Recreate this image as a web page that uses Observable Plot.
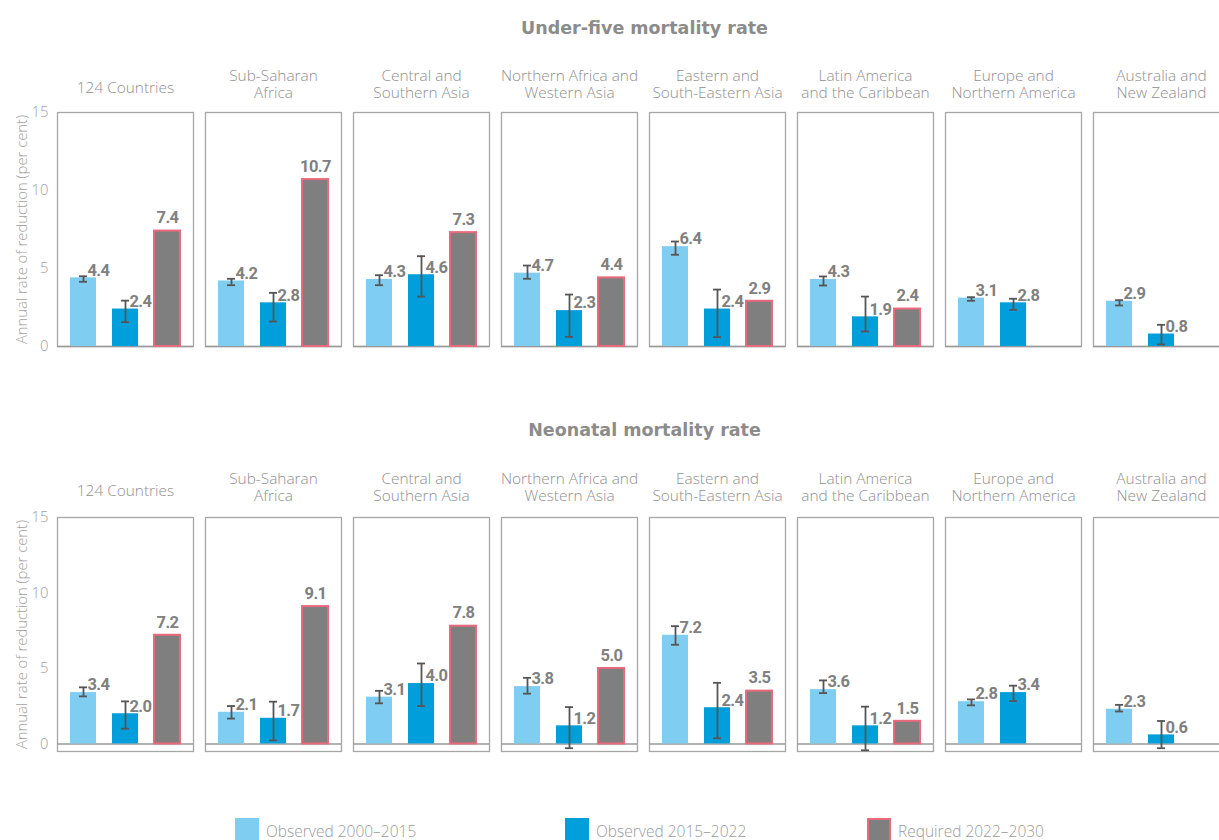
<!DOCTYPE html>
<html>
<head>
<meta charset="utf-8">
<script src="https://cdn.jsdelivr.net/npm/d3@7"></script>
<script src="https://cdn.jsdelivr.net/npm/@observablehq/plot@0.6"></script>
<style>
  html, body { margin: 0; padding: 0; background: #fff; overflow: hidden; }
  #wrap { position: relative; width: 1219px; height: 840px; overflow: hidden; font-family: "Open Sans", Roboto, sans-serif; }
  #wrap svg { max-width: none !important; }
  #wrap svg g[font-weight="bold"] { letter-spacing: -0.6px; }
  .title { position: absolute; left: 0; width: 1289px; text-align: center; font-family: "DejaVu Sans", sans-serif; font-weight: bold; font-size: 17.5px; color: #8c8c8c; line-height: 24px; }
  .row { position: absolute; left: 0; width: 1240px; }
  .legend { position: absolute; top: 818px; display: flex; align-items: flex-start; font-size: 15.5px; font-weight: 300; color: #9a9a9a; }
  .sw { width: 24px; height: 24px; margin-right: 7px; box-sizing: border-box; }
  .legend span { line-height: 18px; margin-top: 4px; }
</style>
</head>
<body>
<div id="wrap">
  <div class="title" style="top:16px">Under-five mortality rate</div>
  <div class="row" id="row1" style="top:50px"></div>
  <div class="title" style="top:418px">Neonatal mortality rate</div>
  <div class="row" id="row2" style="top:452px"></div>
  <div class="legend" style="left:235px"><div class="sw" style="background:#7fcdf1"></div><span>Observed 2000–2015</span></div>
  <div class="legend" style="left:565px"><div class="sw" style="background:#009edb"></div><span>Observed 2015–2022</span></div>
  <div class="legend" style="left:867px"><div class="sw" style="background:#7f7f7f;border:2px solid #e9697d"></div><span>Required 2022–2030</span></div>
</div>
<script>
// ---- Data ----
const regions = ["124 Countries", "Sub-Saharan Africa", "Central and Southern Asia", "Northern Africa and Western Asia",
  "Eastern and South-Eastern Asia", "Latin America and the Caribbean", "Europe and Northern America", "Australia and New Zealand"];
const regionLabels = ["124 Countries", "Sub-Saharan\nAfrica", "Central and\nSouthern Asia", "Northern Africa and\nWestern Asia",
  "Eastern and\nSouth-Eastern Asia", "Latin America\nand the Caribbean", "Europe and\nNorthern America", "Australia and\nNew Zealand"];
const seriesNames = ["Observed 2000–2015", "Observed 2015–2022", "Required 2022–2030"];

// Under-five mortality rate
const u5Obs1   = [4.4, 4.2, 4.3, 4.7, 6.4, 4.3, 3.1, 2.9];
const u5Obs1Lo = [4.15, 3.93, 3.93, 4.34, 5.88, 3.91, 2.93, 2.63];
const u5Obs1Hi = [4.5, 4.34, 4.57, 5.19, 6.73, 4.49, 3.16, 2.97];
const u5Obs2   = [2.4, 2.8, 4.6, 2.3, 2.4, 1.9, 2.8, 0.8];
const u5Obs2Lo = [1.56, 1.6, 3.2, 0.62, 0.6, 0.96, 2.35, 0.13];
const u5Obs2Hi = [2.94, 3.44, 5.79, 3.33, 3.65, 3.2, 3.06, 1.39];
const u5Req    = [7.4, 10.7, 7.3, 4.4, 2.9, 2.4, null, null];

// Neonatal mortality rate
const nmObs1   = [3.4, 2.1, 3.1, 3.8, 7.2, 3.6, 2.8, 2.3];
const nmObs1Lo = [3.15, 1.68, 2.69, 3.33, 6.57, 3.37, 2.56, 2.15];
const nmObs1Hi = [3.75, 2.51, 3.52, 4.38, 7.8, 4.21, 2.95, 2.59];
const nmObs2   = [2.0, 1.7, 4.0, 1.2, 2.4, 1.2, 3.4, 0.6];
const nmObs2Lo = [1.01, 0.24, 2.51, -0.28, 0.38, -0.42, 2.84, -0.28];
const nmObs2Hi = [2.82, 2.8, 5.33, 2.44, 4.05, 2.47, 3.86, 1.52];
const nmReq    = [7.2, 9.1, 7.8, 5.0, 3.5, 1.5, null, null];

const yTicks = [0, 5, 10, 15];
const colors = ["#7fcdf1", "#009edb", "#7f7f7f"];

function buildRows(o1, o1lo, o1hi, o2, o2lo, o2hi, req) {
  const obs = [], rq = [];
  regions.forEach((r, i) => {
    obs.push({region: r, series: seriesNames[0], value: o1[i], lo: o1lo[i], hi: o1hi[i]});
    obs.push({region: r, series: seriesNames[1], value: o2[i], lo: o2lo[i], hi: o2hi[i]});
    if (req[i] != null) rq.push({region: r, series: seriesNames[2], value: req[i]});
  });
  return {obs, rq};
}

function makeRow({obs, rq}, yDomain, marginTop, height, dyTwo, dyOne) {
  const labelFont = {fontFamily: "Roboto, sans-serif", fontWeight: "bold", fontSize: 16.5, fill: "#808080"};
  const facetData = regions.map((r, i) => ({region: r, label: regionLabels[i]}));
  const lightFont = {fontSize: 15.4, fontWeight: 300, fill: "#8f8f8f"};
  return Plot.plot({
    width: 1232, height, marginTop, marginBottom: height - marginTop - 234, marginLeft: 56, marginRight: 2,
    style: {fontFamily: "'Open Sans', Roboto, sans-serif", fontSize: "14.8px", fontWeight: 300, color: "#a0a0a0", overflow: "visible", background: "transparent"},
    fx: {domain: regions, paddingInner: 0.083, paddingOuter: 0, axis: null, label: null},
    x: {domain: seriesNames, paddingInner: 0.39, paddingOuter: 0.28, axis: null},
    y: {domain: yDomain, ticks: yTicks, tickSize: 0, tickPadding: 9,
        label: "Annual rate of reduction (per cent)", labelAnchor: "center", labelArrow: "none", labelOffset: 41},
    color: {domain: seriesNames, range: colors},
    marks: [
      Plot.frame({stroke: "#a6a6a6", strokeWidth: 1.3}),
      Plot.ruleY([0], {stroke: "#999", strokeWidth: 1.6}),
      Plot.barY(obs, {fx: "region", x: "series", y1: 0, y2: "value", fill: "series"}),
      Plot.barY(rq, {fx: "region", x: "series", y1: 0, y2: "value", fill: "#7f7f7f", stroke: "#e9697d", strokeWidth: 2}),
      Plot.ruleX(obs, {fx: "region", x: "series", y1: "lo", y2: "hi", stroke: "#555", strokeWidth: 1.8}),
      Plot.tickY(obs, {fx: "region", x: "series", y: "lo", stroke: "#555", strokeWidth: 1.8, insetLeft: 9, insetRight: 9}),
      Plot.tickY(obs, {fx: "region", x: "series", y: "hi", stroke: "#555", strokeWidth: 1.8, insetLeft: 9, insetRight: 9}),
      Plot.text(obs, {fx: "region", x: "series", y: "value", text: d => d.value.toFixed(1), textAnchor: "start", dx: 4, dy: -7.5, ...labelFont}),
      Plot.text(rq, {fx: "region", x: "series", y: "value", text: d => d.value.toFixed(1), dy: -13, ...labelFont}),
      Plot.text(facetData.filter(d => d.label.includes("\n")), {fx: "region", text: "label", frameAnchor: "top", dy: dyTwo, lineHeight: 1.07, ...lightFont}),
      Plot.text(facetData.filter(d => !d.label.includes("\n")), {fx: "region", text: "label", frameAnchor: "top", dy: dyOne, ...lightFont})
    ]
  });
}

const u5 = buildRows(u5Obs1, u5Obs1Lo, u5Obs1Hi, u5Obs2, u5Obs2Lo, u5Obs2Hi, u5Req);
const nm = buildRows(nmObs1, nmObs1Lo, nmObs1Hi, nmObs2, nmObs2Lo, nmObs2Hi, nmReq);
document.getElementById("row1").appendChild(makeRow(u5, [0, 15], 62, 310, -43, -30));
document.getElementById("row2").appendChild(makeRow(nm, [-0.5, 15], 65, 320, -45, -32));
</script>
</body>
</html>
